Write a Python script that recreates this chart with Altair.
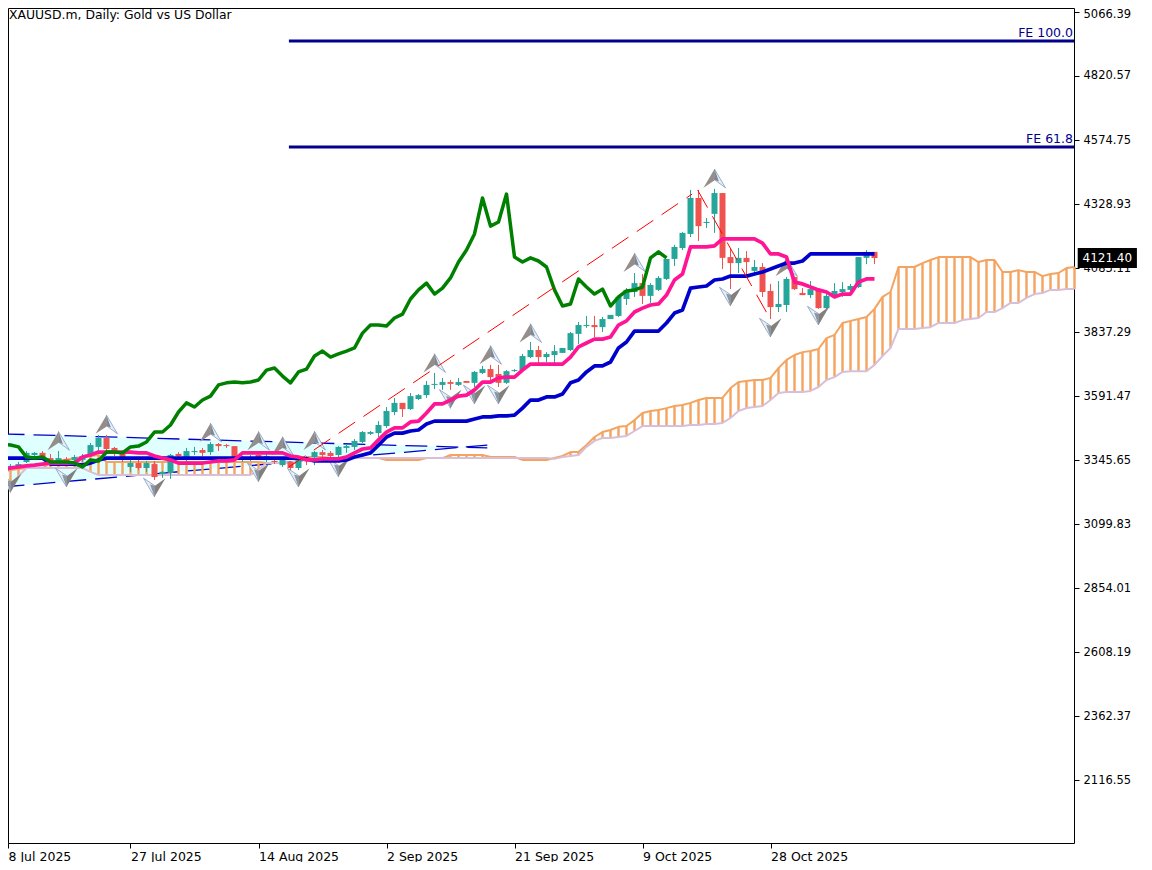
import altair as alt
import pandas as pd

FONT = "DejaVu Sans"

# bar index scale: 0 is the first bar on the chart, one bar is 8px wide
X_DOMAIN = [0.6875, 133.9375]
Y_DOMAIN = [1874.6, 5081.75]

PRICE_TICKS = [2116.55, 2362.37, 2608.19, 2854.01, 3099.83, 3345.65, 3591.47,
               3837.29, 4083.11, 4328.93, 4574.75, 4820.57, 5066.39]
DATE_TICKS = [0.6875, 16, 32, 48, 64, 80, 96]
DATE_LABELS = ["8 Jul 2025", "27 Jul 2025", "14 Aug 2025", "2 Sep 2025",
               "21 Sep 2025", "9 Oct 2025", "28 Oct 2025"]

opens = [3338, 3315, 3323, 3338, 3365, 3373, 3353, 3342, 3350, 3346, 3346, 3369, 3396, 3430, 3392, 3373, 3319, 3334,
         3315, 3330, 3292, 3296, 3369, 3350, 3376, 3384, 3376, 3407, 3403, 3399, 3346, 3350, 3365, 3346, 3342, 3326,
         3338, 3315, 3353, 3357, 3376, 3373, 3365, 3392, 3396, 3415, 3446, 3449, 3476, 3530, 3565, 3541, 3580, 3595,
         3634, 3634, 3645, 3634, 3649, 3642, 3680, 3695, 3676, 3642, 3687, 3691, 3741, 3768, 3741, 3749, 3757, 3768,
         3830, 3860, 3864, 3856, 3887, 3899, 3964, 3991, 4025, 3976, 3999, 4041, 4118, 4160, 4214, 4352, 4256, 4291,
         4371, 4125, 4102, 4122, 4072, 4087, 3995, 3933, 3941, 4049, 3987, 3979, 4002, 3929, 3976, 3991, 3999, 4010,
         4122, 4145]
highs = [3346, 3330, 3338, 3380, 3376, 3380, 3369, 3380, 3357, 3365, 3369, 3411, 3442, 3442, 3396, 3376, 3353, 3346,
         3342, 3342, 3303, 3369, 3376, 3392, 3396, 3392, 3415, 3411, 3407, 3399, 3361, 3365, 3380, 3369, 3350, 3357,
         3342, 3353, 3361, 3380, 3384, 3380, 3399, 3407, 3426, 3457, 3457, 3495, 3549, 3584, 3565, 3603, 3599, 3649,
         3680, 3661, 3653, 3661, 3649, 3687, 3707, 3711, 3711, 3691, 3695, 3753, 3799, 3784, 3760, 3787, 3776, 3837,
         3876, 3899, 3899, 3895, 3903, 3976, 4006, 4064, 4060, 4025, 4052, 4118, 4172, 4221, 4383, 4383, 4275, 4387,
         4371, 4156, 4160, 4148, 4114, 4102, 4022, 4033, 4049, 4049, 4006, 4033, 4002, 3991, 4025, 4029, 4022, 4125,
         4152, 4145]
lows = [3300, 3307, 3315, 3334, 3361, 3346, 3330, 3338, 3334, 3338, 3338, 3357, 3380, 3373, 3361, 3338, 3300, 3307,
        3300, 3269, 3277, 3273, 3346, 3338, 3365, 3361, 3365, 3380, 3392, 3353, 3338, 3342, 3353, 3338, 3330, 3319,
        3307, 3307, 3326, 3326, 3357, 3353, 3357, 3373, 3384, 3411, 3442, 3434, 3469, 3518, 3511, 3538, 3576, 3584,
        3618, 3615, 3615, 3630, 3642, 3626, 3676, 3645, 3626, 3638, 3684, 3687, 3737, 3718, 3722, 3718, 3757, 3764,
        3791, 3853, 3818, 3837, 3887, 3895, 3941, 3972, 3945, 3949, 3995, 4037, 4091, 4152, 4202, 4187, 4237, 4218,
        4079, 4002, 4064, 4045, 4056, 3972, 3887, 3914, 3914, 3999, 3979, 3968, 3926, 3926, 3968, 3972, 3991, 4006,
        4098, 4098]
closes = [3307, 3323, 3330, 3373, 3373, 3357, 3338, 3353, 3342, 3357, 3361, 3403, 3430, 3388, 3376, 3357, 3334, 3315,
          3334, 3280, 3300, 3365, 3361, 3380, 3380, 3373, 3407, 3399, 3399, 3357, 3357, 3357, 3357, 3361, 3338, 3350,
          3315, 3346, 3346, 3376, 3365, 3361, 3396, 3399, 3419, 3453, 3453, 3480, 3534, 3565, 3541, 3591, 3595, 3634,
          3638, 3645, 3638, 3645, 3642, 3684, 3695, 3664, 3642, 3687, 3691, 3745, 3768, 3741, 3753, 3764, 3776, 3833,
          3864, 3864, 3856, 3887, 3903, 3972, 3999, 4025, 3976, 4018, 4045, 4118, 4164, 4218, 4352, 4244, 4260, 4371,
          4122, 4102, 4122, 4106, 4087, 3991, 3933, 3945, 4041, 4002, 3979, 4002, 3929, 3976, 3995, 4002, 4014, 4125,
          4145, 4121.4]

tenkan = [3307, 3315, 3319, 3323, 3326, 3330, 3334, 3334, 3334, 3334, 3357, 3365, 3376, 3376, 3376, 3376, 3376, 3373,
          3373, 3361, 3353, 3346, 3334, 3334, 3334, 3334, 3338, 3342, 3342, 3346, 3373, 3373, 3373, 3373, 3373, 3373,
          3361, 3357, 3346, 3346, 3350, 3350, 3350, 3357, 3373, 3388, 3392, 3423, 3453, 3469, 3469, 3492, 3495, 3526,
          3561, 3561, 3576, 3591, 3595, 3615, 3645, 3645, 3661, 3664, 3664, 3691, 3714, 3714, 3714, 3714, 3714, 3741,
          3780, 3795, 3810, 3810, 3818, 3864, 3880, 3914, 3929, 3941, 3945, 3979, 4037, 4060, 4164, 4164, 4164, 4168,
          4195, 4195, 4195, 4195, 4195, 4179, 4137, 4137, 4125, 4029, 4022, 4010, 3999, 3991, 3972, 3983, 3983, 4029,
          4041, 4041]
kijun = [3353, 3353, 3353, 3353, 3353, 3353, 3330, 3330, 3330, 3330, 3326, 3334, 3346, 3353, 3353, 3353, 3353, 3353,
         3353, 3353, 3353, 3353, 3353, 3353, 3353, 3353, 3353, 3353, 3353, 3353, 3353, 3353, 3353, 3353, 3353, 3353,
         3353, 3353, 3350, 3342, 3342, 3342, 3342, 3346, 3357, 3365, 3373, 3403, 3434, 3449, 3449, 3457, 3461, 3484,
         3495, 3495, 3495, 3495, 3495, 3503, 3511, 3511, 3515, 3515, 3518, 3545, 3576, 3576, 3588, 3588, 3599, 3642,
         3653, 3684, 3707, 3707, 3722, 3776, 3799, 3841, 3841, 3841, 3841, 3872, 3910, 3922, 4006, 4010, 4014, 4037,
         4041, 4052, 4052, 4052, 4060, 4068, 4079, 4091, 4102, 4102, 4110, 4137, 4137, 4137, 4137, 4137, 4137, 4137,
         4137, 4137]
chikou = [3407, 3403, 3396, 3357, 3353, 3357, 3338, 3338, 3338, 3334, 3319, 3346, 3342, 3376, 3376, 3373, 3396, 3399,
          3415, 3453, 3453, 3480, 3530, 3565, 3549, 3576, 3591, 3634, 3642, 3645, 3642, 3645, 3653, 3691, 3699, 3668,
          3642, 3684, 3695, 3745, 3764, 3741, 3753, 3764, 3776, 3833, 3864, 3864, 3860, 3891, 3906, 3964, 3999, 4025,
          3983, 4006, 4045, 4106, 4152, 4214, 4352, 4244, 4260, 4367, 4125, 4106, 4122, 4110, 4087, 3999, 3937, 3945,
          4041, 4010, 3983, 4002, 3937, 3972, 3995, 3999, 4010, 4122, 4145, 4122]
span_a = [3300, 3307, 3311, 3315, 3315, 3315, 3334, 3346, 3346, 3353, 3357, 3361, 3365, 3338, 3338, 3338, 3338, 3338,
          3338, 3338, 3338, 3338, 3338, 3338, 3338, 3338, 3338, 3338, 3338, 3338, 3338, 3338, 3338, 3334, 3334, 3334,
          3334, 3334, 3357, 3357, 3357, 3353, 3353, 3353, 3353, 3353, 3353, 3353, 3346, 3346, 3346, 3346, 3346, 3353,
          3353, 3353, 3365, 3365, 3365, 3365, 3365, 3357, 3357, 3357, 3357, 3346, 3346, 3346, 3346, 3353, 3361, 3376,
          3376, 3403, 3434, 3453, 3461, 3473, 3476, 3499, 3526, 3534, 3538, 3545, 3553, 3557, 3565, 3576, 3584, 3584,
          3584, 3622, 3645, 3649, 3653, 3653, 3661, 3699, 3730, 3749, 3760, 3764, 3772, 3814, 3826, 3872, 3880, 3887,
          3895, 3926, 3972, 3991, 4087, 4087, 4087, 4102, 4114, 4125, 4125, 4125, 4125, 4125, 4106, 4114, 4114, 4068,
          4068, 4075, 4068, 4068, 4052, 4060, 4064, 4083, 4087]
span_b = [3246, 3246, 3284, 3315, 3315, 3315, 3315, 3315, 3315, 3315, 3315, 3300, 3288, 3288, 3288, 3288, 3288, 3288,
          3288, 3288, 3288, 3288, 3288, 3288, 3288, 3288, 3288, 3288, 3288, 3288, 3288, 3288, 3307, 3334, 3334, 3334,
          3334, 3346, 3346, 3353, 3353, 3353, 3353, 3353, 3353, 3353, 3353, 3353, 3353, 3353, 3353, 3353, 3353, 3353,
          3353, 3353, 3353, 3353, 3353, 3353, 3353, 3353, 3353, 3353, 3353, 3353, 3353, 3353, 3353, 3350, 3357, 3361,
          3365, 3396, 3419, 3430, 3430, 3434, 3438, 3457, 3476, 3476, 3476, 3476, 3476, 3476, 3480, 3480, 3484, 3484,
          3488, 3507, 3534, 3545, 3549, 3553, 3576, 3603, 3607, 3607, 3607, 3611, 3626, 3653, 3664, 3684, 3687, 3687,
          3687, 3711, 3745, 3776, 3849, 3849, 3849, 3853, 3856, 3872, 3872, 3872, 3883, 3887, 3891, 3914, 3914, 3929,
          3949, 3949, 3968, 3983, 3987, 3999, 3999, 4002, 4002]

# fractal arrows: bar and price of the middle of each arrow
up_arrow_bars = [7, 13, 26, 32, 35, 39, 54, 61, 66, 79, 89, 98]
up_arrow_prices = [3419, 3482, 3451, 3419, 3399, 3420, 3718, 3749, 3833, 4104, 4427, 4087]
down_arrow_bars = [1, 8, 19, 32, 37, 42, 56, 59, 62, 91, 96, 102]
down_arrow_prices = [3257, 3278, 3240, 3298, 3278, 3317, 3580, 3597, 3597, 3973, 3854, 3900]

# triangle on the left
tri_bars = [0, 60.6]
tri_upper = [3446, 3392]
tri_lower = [3242, 3403]

# zigzag
zig_up_bars = [35.8, 86.2]
zig_up_prices = [3319, 4367]
zig_down_bars = [86.9, 95.9]
zig_down_prices = [4382, 3891]

# fibonacci expansion levels
fe_names = ["FE 100.0", "FE 61.8"]
fe_prices = [4955, 4548]
fe_start = [35.8, 35.8]
fe_end = [133.9375, 133.9375]

# last price tag
last_price = [4121.40]
tag_left = [134.4]
tag_right = [141.8]
tag_top = [4160]
tag_bottom = [4083]
tag_text_bar = [135.0]

UP_LEFT = "M0,-0.85 L-1,0.85 L0.05,0.15 Z"
UP_RIGHT = "M0,-0.85 L1,0.85 L0.05,0.15 Z"
UP_MID = "M0,-0.85 L0.4,0.28 L0.05,0.15 Z"
DOWN_LEFT = "M0,0.85 L-1,-0.85 L0.05,-0.15 Z"
DOWN_RIGHT = "M0,0.85 L1,-0.85 L0.05,-0.15 Z"
DOWN_MID = "M0,0.85 L-0.4,-0.28 L0.05,-0.15 Z"

x_scale = alt.Scale(domain=X_DOMAIN, nice=False, zero=False)
y_scale = alt.Scale(domain=Y_DOMAIN, nice=False, zero=False)

# every layer carries the same axis so Vega-Lite merges them into one
x_axis = alt.Axis(
    values=DATE_TICKS,
    labelExpr="[" + ",".join(f"'{d}'" for d in DATE_LABELS) + "][round(datum.value / 16)]",
    title=None, grid=False, domain=False, labelAlign="left", labelBaseline="middle",
    labelPadding=8, labelFlush=False, labelBound=False, labelOverlap=False,
    tickSize=5, tickColor="black", labelColor="black", labelFont=FONT, labelFontSize=12.5,
)
# the top label would be cut by the edge of the page, so it sits a little lower
y_axis = alt.Axis(
    orient="right", values=PRICE_TICKS, format=".2f", title=None, grid=False, domain=False,
    labelPadding=4, labelFlush=False, labelBound=False, labelOverlap=False,
    labelOffset={"condition": {"test": "datum.value > 5000", "value": 3}, "value": 0},
    tickSize=5, tickColor="black", labelColor="black", labelFont=FONT, labelFontSize=11.5,
)


def xpos(field="bar"):
    return alt.X(f"{field}:Q", scale=x_scale, axis=x_axis)


def ypos(field="price"):
    return alt.Y(f"{field}:Q", scale=y_scale, axis=y_axis)


def series_line(values, color, width):
    df = pd.DataFrame({"bar": range(len(values)), "price": values})
    return alt.Chart(df).mark_line(color=color, strokeWidth=width, strokeJoin="round").encode(
        x=xpos(), y=ypos()
    )


def arrow(df, shape, fill, stroke=None):
    opts = {"shape": shape, "size": 484, "filled": True, "fill": fill, "opacity": 1}
    if stroke:
        opts.update(stroke=stroke, strokeWidth=0.8)
    else:
        opts.update(strokeWidth=0)
    return alt.Chart(df).mark_point(**opts).encode(x=xpos(), y=ypos())


def dashed(bars, prices, color, width, dash):
    df = pd.DataFrame({"bar": bars, "price": prices})
    return alt.Chart(df).mark_line(color=color, strokeWidth=width, strokeDash=dash).encode(
        x=xpos(), y=ypos()
    )


candles = pd.DataFrame({"bar": range(len(opens)), "open": opens, "high": highs, "low": lows, "close": closes})
candles["color"] = ["#26a69a" if c > o else "#ef5350" for o, c in zip(opens, closes)]

cloud = pd.DataFrame({"bar": range(len(span_a)), "a": span_a, "b": span_b})
triangle = pd.DataFrame({"bar": tri_bars, "upper": tri_upper, "lower": tri_lower})
ups = pd.DataFrame({"bar": up_arrow_bars, "price": up_arrow_prices})
downs = pd.DataFrame({"bar": down_arrow_bars, "price": down_arrow_prices})
levels = pd.DataFrame({"name": fe_names, "price": fe_prices, "start": fe_start, "end": fe_end})
tag = pd.DataFrame({"left": tag_left, "right": tag_right, "top": tag_top, "bottom": tag_bottom,
                    "bar": tag_text_bar, "price": last_price})

tri_fill = alt.Chart(triangle).mark_area(color="#e0ffff", opacity=1).encode(
    x=xpos(), y=ypos("upper"), y2="lower:Q"
)
tri_top = dashed(tri_bars, tri_upper, "#0000cd", 1.3, [22, 9])
tri_bottom = dashed(tri_bars, tri_lower, "#0000cd", 1.3, [22, 9])

hatch = alt.Chart(cloud).mark_rule(color="#f4a460", strokeWidth=2.4).encode(
    x=xpos(), y=ypos("a"), y2="b:Q"
)

wicks = alt.Chart(candles).mark_rule(strokeWidth=1).encode(
    x=xpos(), y=ypos("low"), y2="high:Q", color=alt.Color("color:N", scale=None)
)
bodies = alt.Chart(candles).mark_rule(strokeWidth=6).encode(
    x=xpos(), y=ypos("open"), y2="close:Q", color=alt.Color("color:N", scale=None)
)

fe_lines = alt.Chart(levels).mark_rule(color="#00008b", strokeWidth=3).encode(
    x=xpos("start"), x2="end:Q", y=ypos()
)
fe_text = alt.Chart(levels).mark_text(
    align="right", baseline="bottom", dy=-1, dx=-1, color="#00008b", font=FONT, fontSize=12.5
).encode(x=xpos("end"), y=ypos(), text="name:N")

title = alt.Chart(pd.DataFrame({"t": ["XAUUSD.m, Daily:  Gold vs US Dollar"]})).mark_text(
    align="left", baseline="middle", color="black", font=FONT, fontSize=12.4
).encode(x=alt.value(1), y=alt.value(6.5), text="t:N")

tag_box = alt.Chart(tag).mark_rect(color="black").encode(
    x=xpos("left"), x2="right:Q", y=ypos("top"), y2="bottom:Q"
)
tag_text = alt.Chart(tag).mark_text(
    align="left", baseline="middle", color="white", font=FONT, fontSize=12
).encode(x=xpos(), y=ypos(), text=alt.Text("price:Q", format=".2f"))

chart = alt.layer(
    tri_fill,
    tri_top,
    tri_bottom,
    hatch,
    series_line(span_a, "#f4a460", 2),
    series_line(span_b, "#d8bfd8", 2),
    wicks,
    bodies,
    arrow(ups, UP_RIGHT, "#e8eef4", "#7f9cc4"),
    arrow(ups, UP_MID, "#7d8794"),
    arrow(ups, UP_LEFT, "#958d89"),
    arrow(downs, DOWN_LEFT, "#e8eef4", "#7f9cc4"),
    arrow(downs, DOWN_MID, "#8c97a4"),
    arrow(downs, DOWN_RIGHT, "#827f7d"),
    series_line(kijun, "#0000cd", 3.7),
    series_line(tenkan, "#ff1493", 3.7),
    series_line(chikou, "#008000", 3.5),
    dashed(zig_up_bars, zig_up_prices, "#ff0000", 1, [20, 10]),
    dashed(zig_down_bars, zig_down_prices, "#ff0000", 1, [20, 10]),
    fe_lines,
    fe_text,
    tag_box,
    tag_text,
    title,
).properties(
    width=1066,
    height=835,
    padding={"left": 0, "top": 0, "right": 70, "bottom": 19},
    autosize=alt.AutoSizeParams(type="none"),
    background="white",
).configure_view(stroke="black", strokeWidth=1)

chart.save("out.html", embed_options={"renderer": "svg", "actions": False})
